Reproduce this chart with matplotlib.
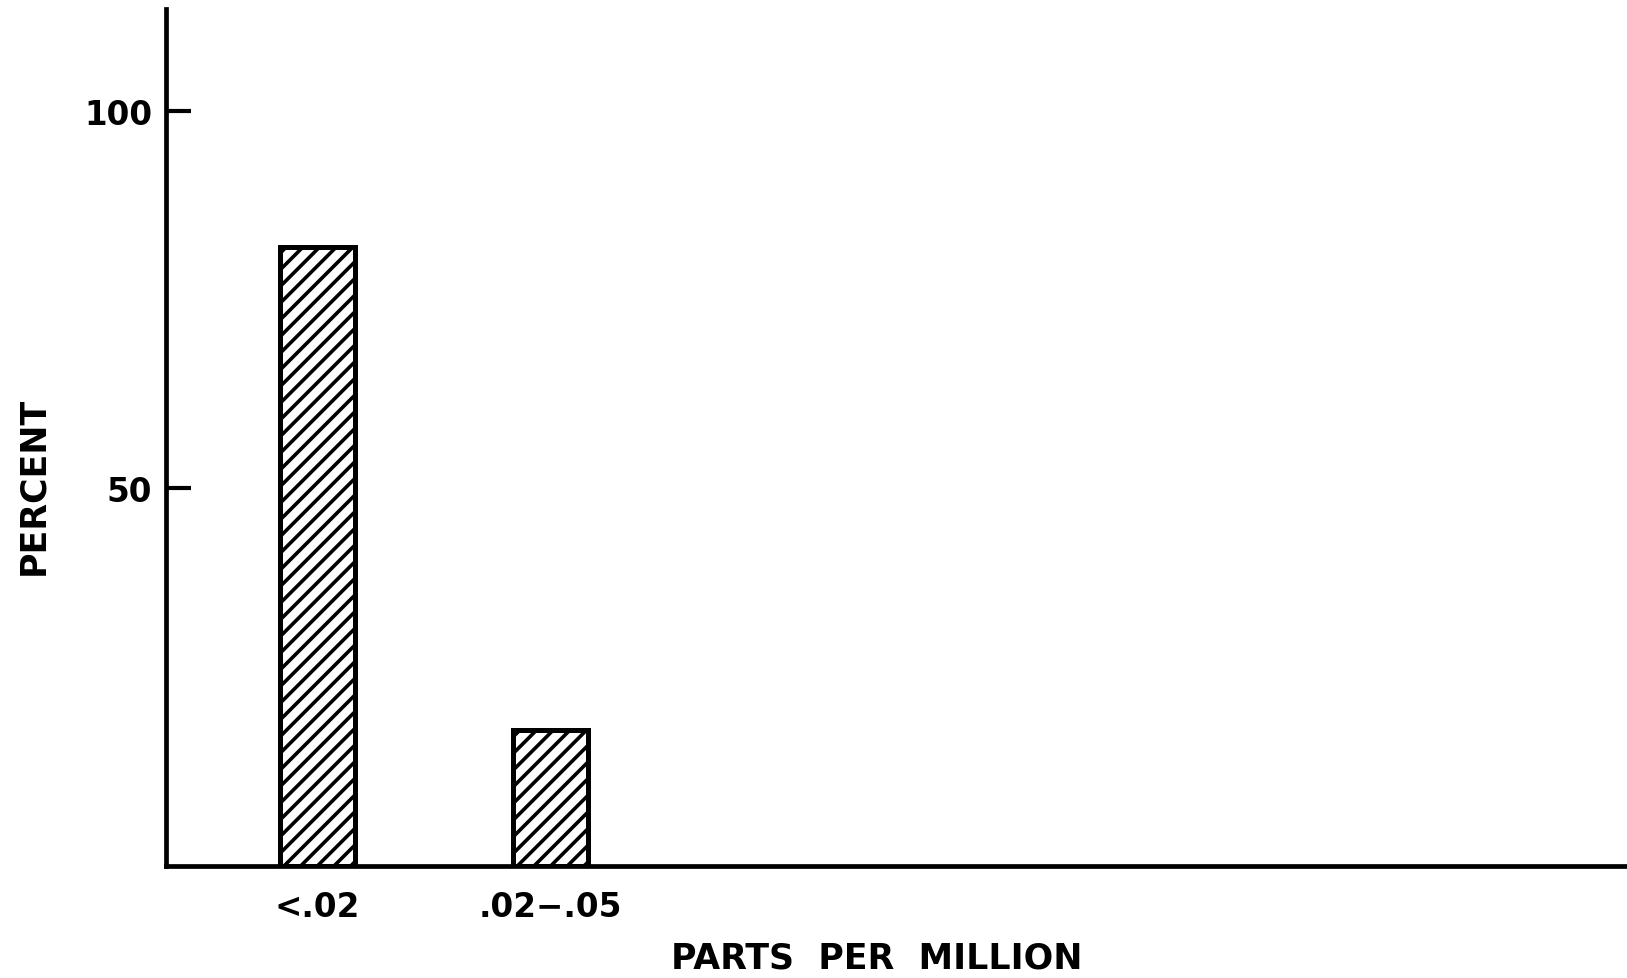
import matplotlib
matplotlib.use("Agg")
import matplotlib.pyplot as plt

# data
categories = ["<.02", ".02\u2212.05"]
percent = [82, 18]
y_ticks = [50, 100]

plt.rcParams['font.family'] = ['DejaVu Sans']
plt.rcParams['font.weight'] = 'bold'
plt.rcParams['hatch.linewidth'] = 2.6

W, H = 1627, 979
fig = plt.figure(figsize=(W / 100, H / 100), dpi=100)
ax = fig.add_axes([166 / W, 1 - 867 / H, 1 - 166 / W, (867 - 10) / H])

x = list(range(len(categories)))
ax.bar(x, percent, width=0.32, color='white', edgecolor='black',
       linewidth=3.6, hatch='//')

ax.set_xlim(-0.65, 5.62)
ax.set_ylim(0, 113.5)

for s in ['top', 'right']:
    ax.spines[s].set_visible(False)
for s in ['left', 'bottom']:
    ax.spines[s].set_linewidth(3.4)

ax.set_yticks(y_ticks)
ax.set_yticklabels([str(v) for v in y_ticks], fontsize=23.5, fontweight='bold')
ax.tick_params(axis='y', direction='in', length=18, width=3, pad=10)

ax.set_xticks(x)
ax.set_xticklabels(categories, fontsize=23.5, fontweight='bold')
ax.tick_params(axis='x', length=0, pad=17)

fig.text(877 / W, 1 - 959 / H, "PARTS  PER  MILLION", fontsize=25,
         fontweight='bold', ha='center', va='center')
fig.text(33 / W, 1 - 486 / H, "PERCENT", fontsize=25, fontweight='bold',
         rotation=90, ha='center', va='center')

fig.savefig("out.png", dpi=100, facecolor='white')
